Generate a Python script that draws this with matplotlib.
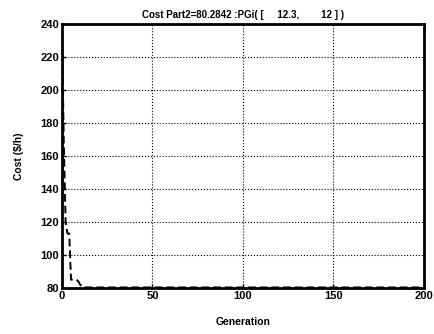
import matplotlib.pyplot as plt

# cost per generation (best value)
early_cost = [236, 168, 120, 113, 113, 85, 85, 85, 85, 84, 82, 81]
final_cost = 80.2842
n_gen = 201
cost = early_cost + [final_cost] * (n_gen - len(early_cost))
generation = list(range(n_gen))

x_ticks = [0, 50, 100, 150, 200]
y_ticks = [80, 100, 120, 140, 160, 180, 200, 220, 240]

plt.rcParams['font.family'] = ['Liberation Sans', 'DejaVu Sans']
plt.rcParams['font.weight'] = 'bold'

fig = plt.figure(figsize=(4.35, 3.34), dpi=100)
ax = fig.add_axes([0.1425, 0.138, 0.832, 0.790])

ax.plot(generation, cost, color='black', linestyle='--', linewidth=1.4,
        dashes=(4, 2))

ax.set_xlim(0, 200)
ax.set_ylim(80, 240)
ax.set_xticks(x_ticks)
ax.set_yticks(y_ticks)
ax.grid(True, color='black', linestyle=':', linewidth=0.8)
ax.tick_params(direction='in', labelsize=8, length=3, width=1, pad=2)
for s in ax.spines.values():
    s.set_linewidth(2)

ax.set_xlabel('Generation', fontsize=7.5, fontweight='bold', labelpad=12)
ax.set_ylabel('Cost ($/h)', fontsize=7.5, fontweight='bold', labelpad=12)
ax.set_title('Cost Part2=80.2842 :PGi( [     12.3,        12 ] )',
             fontsize=7, fontweight='bold', pad=4)

plt.savefig('out.png', dpi=100)
